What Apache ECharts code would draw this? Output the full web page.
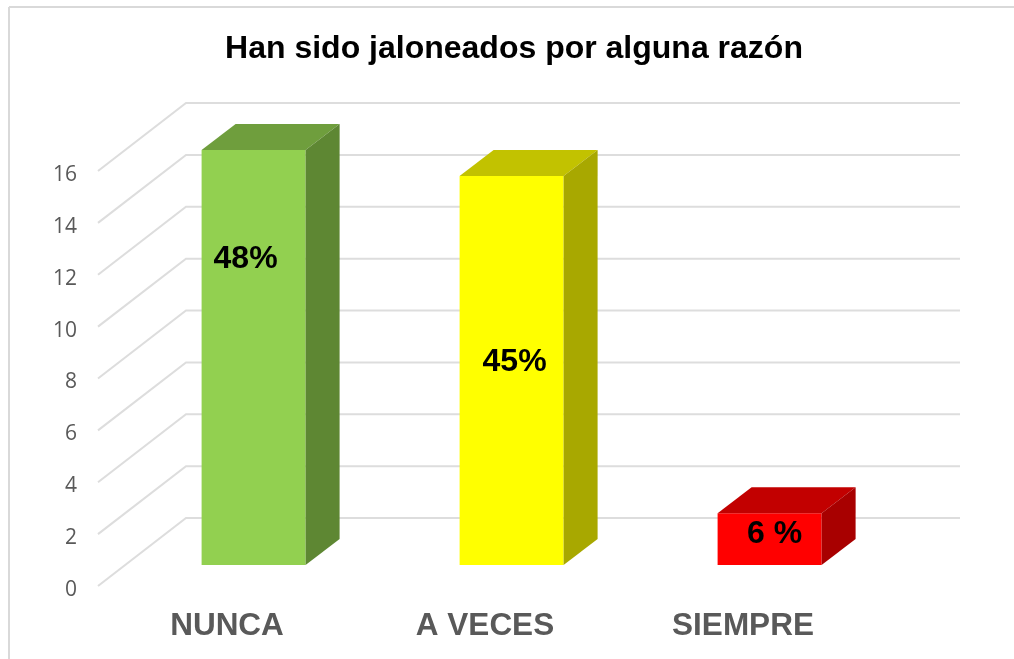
<!DOCTYPE html>
<html>
<head>
<meta charset="utf-8">
<style>html,body{margin:0;padding:0;background:#fff}#c{width:1014px;height:659px}</style>
<script src="https://cdn.jsdelivr.net/npm/echarts@6/dist/echarts.min.js"></script>
</head>
<body>
<div id="c"></div>
<script>
const titleText = 'Han sido jaloneados por alguna razón';
const categories = ['NUNCA', 'A VECES', 'SIEMPRE'];
const values = [16, 15, 2];
const percentLabels = ['48%', '45%', '6 %'];
const yTicks = [0, 2, 4, 6, 8, 10, 12, 14, 16];

const frontColors = ['#92D050', '#FFFF00', '#FF0000'];
const topColors = ['#6F9E3D', '#C2C200', '#C20000'];
const sideColors = ['#5E8733', '#A8A800', '#A80000'];
const labelNudgeX = [-8, 3, 5];
const labelNudgeY = [109, 186, 21];

const FLOOR_DX = 88, FLOOR_DY = 68;
const BAR_DX = 26.6, BAR_DY = 21, BAR_W = 104, DEPTH_DX = 34, DEPTH_DY = 26;
const GRID_COLOR = '#DDDDDD';

const chart = echarts.init(document.getElementById('c'), null, {renderer: 'canvas'});

function gridWall(params, api) {
  const cs = params.coordSys;
  const y = api.coord([0, api.value(0)])[1];
  return {
    type: 'polyline',
    shape: {points: [[cs.x, y], [cs.x + FLOOR_DX, y - FLOOR_DY], [cs.x + FLOOR_DX + cs.width, y - FLOOR_DY]]},
    style: {stroke: GRID_COLOR, lineWidth: 2, fill: null},
    silent: true
  };
}

function bar3d(params, api) {
  const i = api.value(0);
  const top = api.coord([i, api.value(1)]);
  const base = api.coord([i, 0]);
  const l = top[0] + BAR_DX - BAR_W / 2, r = l + BAR_W;
  const t = top[1] - BAR_DY, b = base[1] - BAR_DY;
  return {
    type: 'group',
    children: [
      {type: 'polygon', shape: {points: [[l, t], [r, t], [r, b], [l, b]]}, style: {fill: frontColors[i]}},
      {type: 'polygon', shape: {points: [[l, t], [l + DEPTH_DX, t - DEPTH_DY], [r + DEPTH_DX, t - DEPTH_DY], [r, t]]}, style: {fill: topColors[i]}},
      {type: 'polygon', shape: {points: [[r, t], [r + DEPTH_DX, t - DEPTH_DY], [r + DEPTH_DX, b - DEPTH_DY], [r, b]]}, style: {fill: sideColors[i]}},
      {type: 'text', z2: 10, style: {
        text: percentLabels[i],
        x: (l + r) / 2 + labelNudgeX[i],
        y: t + labelNudgeY[i],
        align: 'center', verticalAlign: 'middle',
        fill: '#000', font: 'bold 32px "Liberation Sans", Arial, sans-serif'
      }}
    ]
  };
}

chart.setOption({
  animation: false,
  backgroundColor: '#fff',
  title: {
    text: titleText, left: 509, textAlign: 'center', top: 28,
    textStyle: {color: '#000', fontSize: 32, fontWeight: 'bold', fontFamily: '"Liberation Sans", Arial, sans-serif'}
  },
  grid: {left: 98, width: 774, top: 171, height: 415, containLabel: false},
  xAxis: {
    type: 'category', data: categories,
    axisLine: {show: false}, axisTick: {show: false}, splitLine: {show: false},
    axisLabel: {interval: 0, margin: 24, color: '#595959', fontSize: 31.5, fontWeight: 'bold', fontFamily: '"Liberation Sans", Arial, sans-serif'}
  },
  yAxis: {
    type: 'value', min: 0, max: 16, interval: 2,
    axisLine: {show: false}, axisTick: {show: false}, splitLine: {show: false},
    axisLabel: {margin: 21, color: '#595959', fontSize: 21, verticalAlign: 'top', lineHeight: 8, fontFamily: '"Open Sans", sans-serif'}
  },
  graphic: [
    {type: 'line', silent: true, shape: {x1: 9, y1: 7, x2: 9, y2: 659}, style: {stroke: '#D9D9D9', lineWidth: 2}},
    {type: 'line', silent: true, shape: {x1: 9, y1: 7, x2: 1014, y2: 7}, style: {stroke: '#D9D9D9', lineWidth: 2}}
  ],
  series: [
    {type: 'custom', coordinateSystem: 'cartesian2d', z: 1, silent: true, renderItem: gridWall,
     encode: {y: 0}, data: yTicks.map(v => [v])},
    {type: 'custom', coordinateSystem: 'cartesian2d', z: 2, silent: true, renderItem: bar3d,
     encode: {x: 0, y: 1}, data: values.map((v, i) => [i, v])}
  ]
});
</script>
</body>
</html>
